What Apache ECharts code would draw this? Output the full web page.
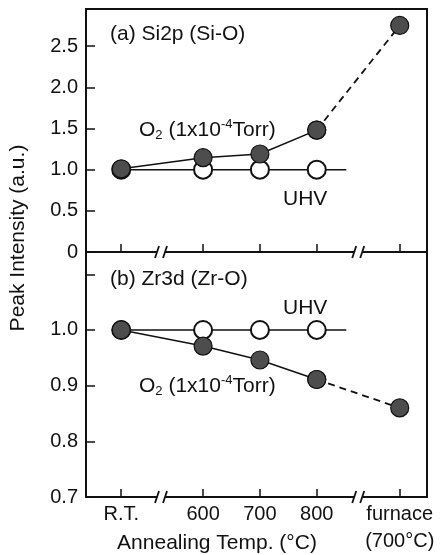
<!DOCTYPE html>
<html>
<head>
<meta charset="utf-8">
<script src="https://cdn.jsdelivr.net/npm/echarts@6/dist/echarts.min.js"></script>
<style>
  html, body { margin: 0; padding: 0; background: #fff; }
  #chart { width: 441px; height: 555px; }
</style>
</head>
<body>
<div id="chart"></div>
<script>
// categories on a broken temperature axis, and where each sits along it
const categories = ['R.T.', '600', '700', '800', 'furnace\n(700°C)']
const xPos = [4.56, 6, 7, 8, 9.46]
const breakPos = [5.26, 8.73]
const uhvEnd = 8.52

// (a) Si2p (Si-O)
const si2pO2 = [1.01, 1.145, 1.19, 1.48, 2.75]
const si2pUHV = [1.0, 1.0, 1.0, 1.0]
// (b) Zr3d (Zr-O)
const zr3dO2 = [1.0, 0.971, 0.946, 0.911, 0.86]
const zr3dUHV = [1.0, 1.0, 1.0, 1.0]

const FONT = '"Liberation Sans", Arial, Helvetica, sans-serif'
const INK = '#111'

const chart = echarts.init(document.getElementById('chart'))

function xAxisFor(gridIndex, withLabels) {
  return {
    type: 'value', gridIndex, min: 3.94, max: 9.94,
    splitLine: { show: false },
    axisLine: { show: true, lineStyle: { color: INK, width: 2 } },
    axisTick: { show: true, inside: true, length: 8, customValues: xPos, lineStyle: { color: INK, width: 1.5 } },
    axisLabel: {
      show: withLabels, customValues: xPos, margin: 4,
      color: INK, fontFamily: FONT, fontSize: 20, lineHeight: 27,
      formatter: v => {
        const i = xPos.findIndex(p => Math.abs(p - v) < 1e-6)
        return i < 0 ? '' : categories[i]
      }
    }
  }
}

function yAxisFor(gridIndex, min, max, interval, fmt) {
  return {
    type: 'value', gridIndex, min, max, interval,
    splitLine: { show: false },
    axisLine: { show: true, lineStyle: { color: INK, width: 2 } },
    axisTick: { show: true, inside: true, length: 9, lineStyle: { color: INK, width: 1.5 } },
    axisLabel: { color: INK, fontFamily: FONT, fontSize: 20, margin: 8, showMaxLabel: false, formatter: fmt }
  }
}

const filled = { color: '#4d4d4d', borderColor: INK, borderWidth: 1.2 }
const open = { color: '#fff', borderColor: INK, borderWidth: 2 }

function uhvSeries(idx, vals) {
  const data = vals.map((v, i) => [xPos[i], v])
  data.push({ value: [uhvEnd, vals[vals.length - 1]], symbol: 'none' })
  return {
    type: 'line', xAxisIndex: idx, yAxisIndex: idx, data, z: 2,
    symbol: 'circle', symbolSize: 18, itemStyle: open,
    lineStyle: { color: INK, width: 1.5 }, animation: false
  }
}

function o2Series(idx, vals) {
  const pts = vals.map((v, i) => [xPos[i], v])
  return [
    {
      type: 'line', xAxisIndex: idx, yAxisIndex: idx, data: pts.slice(0, 4), z: 4,
      symbol: 'circle', symbolSize: 18, itemStyle: filled,
      lineStyle: { color: INK, width: 1.5 }, animation: false
    },
    {
      type: 'line', xAxisIndex: idx, yAxisIndex: idx, data: pts.slice(3), z: 3,
      symbol: 'circle', symbolSize: 18, itemStyle: filled,
      lineStyle: { color: INK, width: 1.8, type: [7, 5] }, animation: false
    }
  ]
}

function label(text, x, y) {
  return {
    type: 'text', x, y, z: 10,
    style: { text, font: '21px ' + FONT, fill: INK, verticalAlign: 'middle' }
  }
}

function o2Label(x, y) {
  return {
    type: 'text', x, y, z: 10,
    style: {
      text: '{n|O}{sub|2}{n| (1x10}{sup|-4}{n|Torr)}',
      fill: INK, verticalAlign: 'middle',
      rich: {
        n: { fontFamily: FONT, fontSize: 21, lineHeight: 24, fill: INK },
        sub: { fontFamily: FONT, fontSize: 13, lineHeight: 13, verticalAlign: 'bottom', fill: INK },
        sup: { fontFamily: FONT, fontSize: 13, lineHeight: 13, verticalAlign: 'top', fill: INK }
      }
    }
  }
}

chart.setOption({
  backgroundColor: '#fff',
  animation: false,
  grid: [
    { left: 86, top: 9, width: 341, height: 243, show: true, borderColor: INK, borderWidth: 2 },
    { left: 86, top: 252, width: 341, height: 246, show: true, borderColor: INK, borderWidth: 2 }
  ],
  xAxis: [xAxisFor(0, false), xAxisFor(1, true)],
  yAxis: [
    yAxisFor(0, 0, 2.95, 0.5, v => (v === 0 ? '0' : v.toFixed(1))),
    yAxisFor(1, 0.7, 1.14, 0.1, v => (v > 1.05 ? '' : v.toFixed(1)))
  ],
  series: [
    uhvSeries(0, si2pUHV),
    ...o2Series(0, si2pO2),
    uhvSeries(1, zr3dUHV),
    ...o2Series(1, zr3dO2)
  ]
})

// texts and the "//" axis break marks
const graphics = [
  label('(a) Si2p (Si-O)', 110, 34),
  o2Label(139, 130),
  label('UHV', 283, 199),
  label('(b) Zr3d (Zr-O)', 110, 279),
  label('UHV', 283, 308),
  o2Label(139, 386),
  {
    type: 'text', x: 217, y: 543, z: 10,
    style: { text: 'Annealing Temp. (°C)', font: '21px ' + FONT, fill: INK, align: 'center', verticalAlign: 'middle' }
  },
  {
    type: 'text', x: 18, y: 238, rotation: Math.PI / 2, z: 10,
    style: { text: 'Peak Intensity (a.u.)', font: '21px ' + FONT, fill: INK, align: 'center', verticalAlign: 'middle' }
  }
]

;[0, 1].forEach(g => {
  const yMin = g === 0 ? 0 : 0.7
  breakPos.forEach(b => {
    const [cx, cy] = chart.convertToPixel({ gridIndex: g }, [b, yMin])
    graphics.push({ type: 'rect', z: 20, shape: { x: cx - 4, y: cy - 3, width: 8, height: 6 }, style: { fill: '#fff' } })
    ;[-4, 4].forEach(d => {
      graphics.push({
        type: 'line', z: 21,
        shape: { x1: cx + d - 2, y1: cy + 6, x2: cx + d + 2, y2: cy - 6 },
        style: { stroke: INK, lineWidth: 1.8 }
      })
    })
  })
})

chart.setOption({ graphic: graphics })
</script>
</body>
</html>
